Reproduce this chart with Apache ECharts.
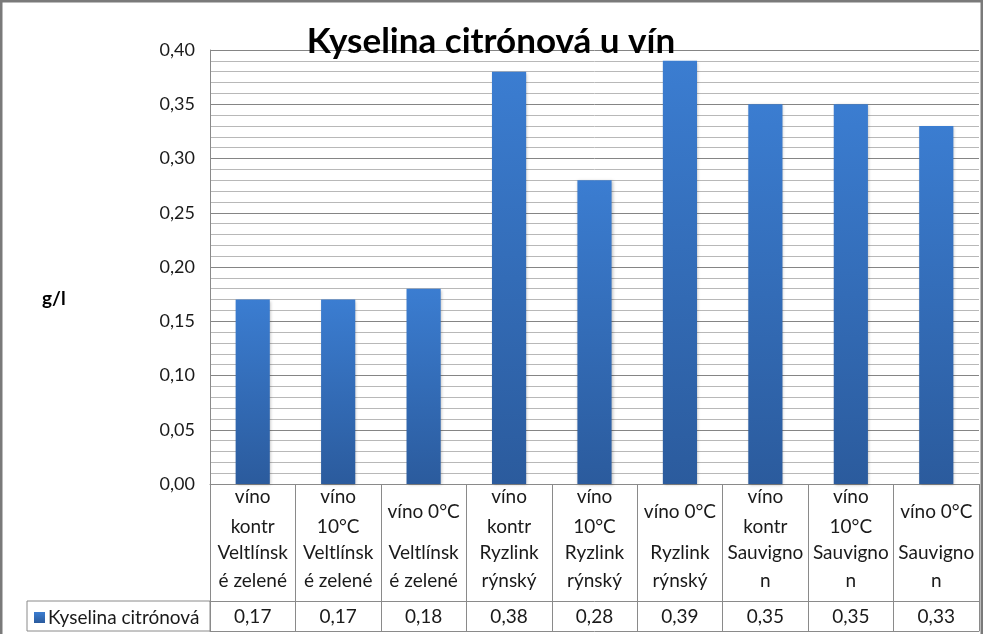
<!DOCTYPE html>
<html>
<head>
<meta charset="utf-8">
<script src="https://cdn.jsdelivr.net/npm/echarts@6/dist/echarts.min.js"></script>
<style>
html,body{margin:0;padding:0;background:#fff;}
#c{width:983px;height:634px;}
</style>
</head>
<body>
<div id="c"></div>
<script>
// Data
var treatments = ["víno\nkontr", "víno\n10°C", "víno 0°C", "víno\nkontr", "víno\n10°C", "víno 0°C", "víno\nkontr", "víno\n10°C", "víno 0°C"];
var varieties = ["Veltlínsk\né zelené", "Veltlínsk\né zelené", "Veltlínsk\né zelené", "Ryzlink\nrýnský", "Ryzlink\nrýnský", "Ryzlink\nrýnský", "Sauvigno\nn", "Sauvigno\nn", "Sauvigno\nn"];
var citricAcid = [0.17, 0.17, 0.18, 0.38, 0.28, 0.39, 0.35, 0.35, 0.33];
var seriesName = "Kyselina citrónová";
var chartTitle = "Kyselina citrónová u vín";
var yUnit = "g/l";

function fmt(v) { return Number(v).toFixed(2).replace('.', ','); }

var FONT = 'Lato';
var lineCol = '#8a8a8a';
var textCol = '#1a1a1a';
var TS = 19;

var chart = echarts.init(document.getElementById('c'), null, {renderer: 'canvas'});
var option = {
  animation: false,
  backgroundColor: '#ffffff',
  textStyle: {fontFamily: FONT},
  title: [
    {text: chartTitle, left: 486, top: 19, textAlign: 'center',
     textStyle: {fontFamily: FONT, fontSize: 35, fontWeight: 'bold', color: '#000'}},
    {text: yUnit, left: 37, top: 284,
     textStyle: {fontFamily: FONT, fontSize: 19, fontWeight: 'bold', color: '#000'}}
  ],
  legend: {
    left: 29, top: 603, itemWidth: 11, itemHeight: 11, icon: 'rect', itemGap: 5,
    textStyle: {fontFamily: FONT, fontSize: TS, color: textCol, padding: [0, 0, 0, -2]},
    data: [seriesName]
  },
  grid: {left: 210, right: 4, top: 50, bottom: 150, containLabel: false},
  yAxis: {
    type: 'value', min: 0, max: 0.4, interval: 0.05,
    axisLine: {show: true, lineStyle: {color: lineCol}},
    axisTick: {show: false},
    axisLabel: {formatter: fmt, fontSize: 18, color: textCol, margin: 15, fontFamily: FONT},
    splitLine: {show: true, lineStyle: {color: '#858585', width: 1}},
    minorTick: {show: false, splitNumber: 5},
    minorSplitLine: {show: true, lineStyle: {color: '#b8b8b8', width: 1}}
  },
  xAxis: [
    {
      type: 'category', data: treatments, position: 'bottom',
      axisLine: {show: true, lineStyle: {color: lineCol}},
      axisTick: {show: true, length: 147, lineStyle: {color: lineCol}},
      axisLabel: {interval: 0, margin: 28, verticalAlign: 'middle', lineHeight: 30,
                  fontSize: TS, color: textCol, fontFamily: FONT}
    },
    {
      type: 'category', data: varieties, position: 'bottom', offset: 0,
      axisLine: {show: false}, axisTick: {show: false},
      axisLabel: {interval: 0, margin: 83, verticalAlign: 'middle', lineHeight: 28,
                  fontSize: TS, color: textCol, fontFamily: FONT}
    },
    {
      type: 'category', data: treatments, position: 'bottom', offset: 117,
      axisLine: {show: true, lineStyle: {color: lineCol}}, axisTick: {show: false},
      axisLabel: {interval: 0, margin: 16, verticalAlign: 'middle',
                  fontSize: TS, color: textCol, fontFamily: FONT,
                  formatter: function (v, i) { return fmt(citricAcid[i]); }}
    },
    {
      type: 'category', data: treatments, position: 'bottom', offset: 147,
      axisLine: {show: true, lineStyle: {color: lineCol}}, axisTick: {show: false},
      axisLabel: {show: false}
    }
  ],
  series: [{
    name: seriesName, type: 'bar', xAxisIndex: 0, data: citricAcid,
    barWidth: '40%',
    itemStyle: {
      color: new echarts.graphic.LinearGradient(0, 0, 0, 1, [
        {offset: 0, color: '#3b7dd1'},
        {offset: 1, color: '#2b5b9d'}
      ]),
      shadowBlur: 3, shadowColor: 'rgba(0,0,0,0.25)', shadowOffsetX: 1, shadowOffsetY: 1
    }
  }],
  graphic: [
    {type: 'rect', shape: {x: 27, y: 601, width: 183, height: 30},
     style: {fill: 'none', stroke: lineCol, lineWidth: 1}, silent: true},
    {type: 'rect', shape: {x: 1, y: 1, width: 981, height: 660},
     style: {fill: 'none', stroke: '#7a7a7a', lineWidth: 3}, silent: true}
  ]
};
chart.setOption(option);
</script>
</body>
</html>
